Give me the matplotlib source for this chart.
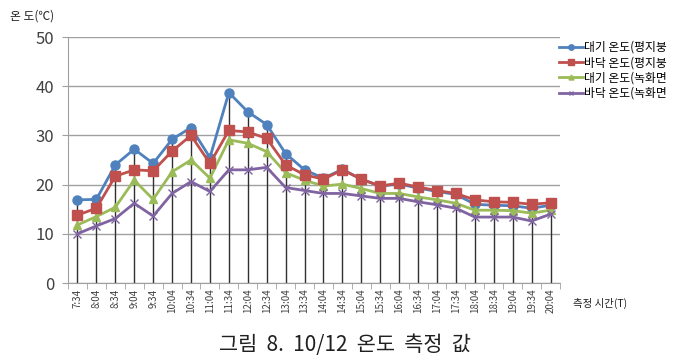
import matplotlib.pyplot as plt
import numpy as np

plt.rcParams['font.family'] = ['Noto Sans CJK KR', 'DejaVu Sans']

# measurement times (30 min steps)
times = ['7:34', '8:04', '8:34', '9:04', '9:34', '10:04', '10:34', '11:04', '11:34',
         '12:04', '12:34', '13:04', '13:34', '14:04', '14:34', '15:04', '15:34',
         '16:04', '16:34', '17:04', '17:34', '18:04', '18:34', '19:04', '19:34', '20:04']

air_flat = [16.9, 17.0, 24.0, 27.2, 24.3, 29.2, 31.6, 25.5, 38.7, 34.8, 32.2, 26.3, 23.0,
            21.3, 23.1, 21.1, 19.7, 20.1, 19.3, 18.6, 18.0, 16.0, 15.8, 15.7, 15.2, 15.8]
floor_flat = [13.8, 15.2, 21.7, 23.0, 22.8, 26.8, 30.0, 24.3, 31.0, 30.7, 29.4, 24.0, 22.0,
              21.1, 23.0, 21.1, 19.7, 20.3, 19.5, 18.8, 18.2, 16.9, 16.5, 16.4, 16.0, 16.3]
air_green = [11.8, 13.5, 15.4, 20.9, 17.0, 22.6, 25.0, 21.3, 29.1, 28.4, 26.7, 22.4, 20.9,
             19.7, 20.1, 19.2, 18.2, 18.2, 17.5, 16.9, 16.2, 14.8, 14.8, 14.7, 14.2, 14.8]
floor_green = [10.0, 11.6, 13.1, 16.2, 13.6, 18.2, 20.6, 18.6, 23.0, 23.0, 23.5, 19.4, 18.8,
               18.2, 18.2, 17.7, 17.2, 17.2, 16.5, 15.9, 15.2, 13.4, 13.4, 13.4, 12.6, 14.0]

labels = ['대기 온도(평지붕', '바닥 온도(평지붕', '대기 온도(녹화면', '바닥 온도(녹화면']

x = np.arange(len(times))

fig = plt.figure(figsize=(6.82, 3.63), dpi=100)
ax = fig.add_axes([68 / 682, 1 - 283 / 363, (560 - 68) / 682, (283 - 37) / 363])

# horizontal gridlines
ax.set_ylim(0, 50)
ax.set_yticks([0, 10, 20, 30, 40, 50])
ax.yaxis.grid(True, color='#a0a0a0', lw=1)
ax.set_axisbelow(True)

# drop lines from the highest value down to the axis
top = np.max([air_flat, floor_flat, air_green, floor_green], axis=0)
ax.vlines(x, 0, top, color='#303030', lw=1, zorder=1)

ax.plot(x, air_flat, color='#4F81BD', marker='o', ms=6.5, lw=2, label=labels[0], zorder=3)
ax.plot(x, floor_flat, color='#C0504D', marker='s', ms=6.5, lw=2, label=labels[1], zorder=4)
ax.plot(x, air_green, color='#9BBB59', marker='^', ms=6, lw=2, label=labels[2], zorder=3)
ax.plot(x, floor_green, color='#8064A2', marker='x', ms=6, mew=1, lw=2, label=labels[3], zorder=3)

ax.set_xlim(-0.5, len(times) - 0.5)
ax.set_xticks(x)
ax.set_xticklabels(times, rotation=90, fontsize=7, color='#404040')
ax.set_xticks(np.arange(-0.5, len(times)), minor=True)
ax.tick_params(axis='x', which='major', length=0, pad=4)
ax.tick_params(axis='x', which='minor', length=4, color='#a0a0a0')
ax.tick_params(axis='y', length=4, color='#a0a0a0', labelsize=12, labelcolor='#404040', pad=6)

for s in ['top', 'right']:
    ax.spines[s].set_visible(False)
ax.spines['left'].set_color('#a0a0a0')
ax.spines['bottom'].set_color('#a0a0a0')

fig.legend(loc='upper left', bbox_to_anchor=(553 / 682, 1 - 35 / 363), frameon=False,
           fontsize=8.5, handlelength=2.0, handletextpad=0.1, labelspacing=0.2,
           borderpad=0, markerscale=0.6)

fig.text(10 / 682, 1 - 16 / 363, '온 도(℃)', fontsize=8.5, va='center', color='#202020')
fig.text(573 / 682, 1 - 303 / 363, '측정 시간(T)', fontsize=7.5, va='center', color='#202020')
fig.text(345 / 682, 1 - 345 / 363, '그림  8.  10/12  온도  측정  값', fontsize=15, ha='center',
         va='center', color='#202020')

plt.savefig('out.png', dpi=100)
